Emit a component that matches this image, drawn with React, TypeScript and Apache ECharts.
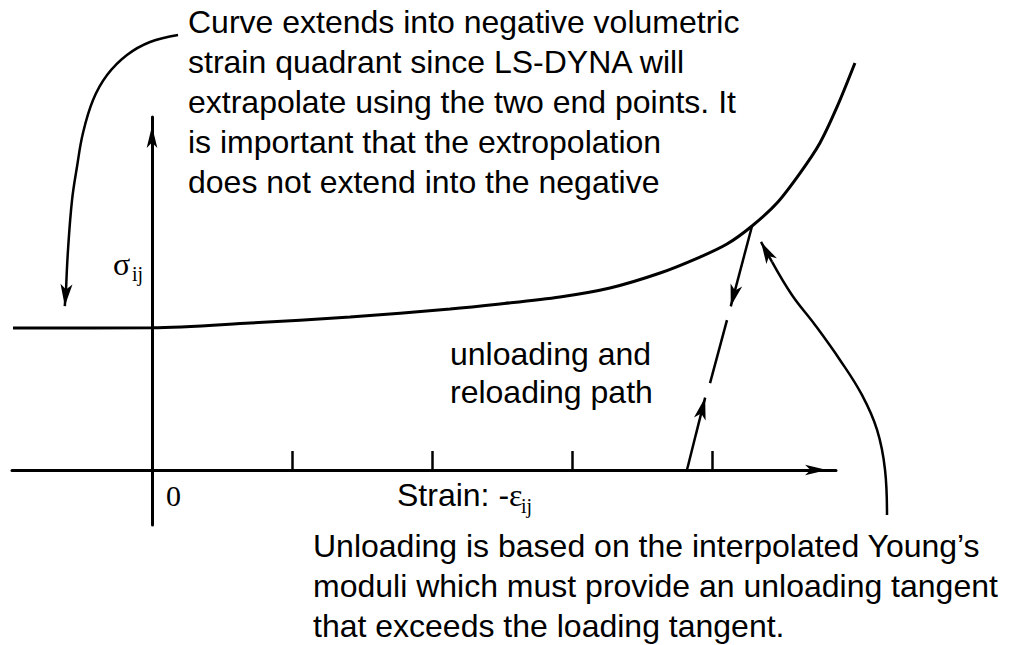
import React, { useEffect, useRef } from "react";
import * as echarts from "echarts";

// Loading curve (x: strain -eps_ij, y: stress sigma_ij; one unit = one tick step)
const curveX = [-0.993, 0, 0.7, 1.414, 2.129, 2.486, 2.914, 3.271, 3.629, 3.914, 4.107, 4.286, 4.464, 4.629, 4.771, 4.893, 5.021];
const curveY = [1.014, 1.016, 1.05, 1.093, 1.15, 1.186, 1.236, 1.3, 1.407, 1.521, 1.614, 1.743, 1.907, 2.121, 2.336, 2.593, 2.907];

// Strain tick values
const strainTicks = [1, 2, 3, 4];

// Unloading / reloading path pieces
const unloadDown = [[4.286, 1.743], [4.134, 1.169]];
const unloadMid = [[4.107, 1.071], [3.986, 0.621]];
const reloadUp = [[3.821, 0], [3.951, 0.517]];

// Left annotation arrow (curved) and its head segment
const leftArrowX = [0.186, -0.014, -0.179, -0.321, -0.421, -0.493, -0.536, -0.571, -0.6, -0.614];
const leftArrowY = [3.107, 3.057, 2.964, 2.821, 2.643, 2.407, 2.164, 1.929, 1.571, 1.286];
const leftHead = [[-0.614, 1.286], [-0.623, 1.171]];

// Right annotation arrow (curved) and its head segment
const rightArrowX = [5.25, 5.236, 5.179, 5.071, 4.914, 4.736, 4.571, 4.429];
const rightArrowY = [-0.321, 0, 0.286, 0.536, 0.786, 1.036, 1.25, 1.486];
const rightHead = [[4.429, 1.486], [4.35, 1.629]];

// Texts
const topNote =
  "Curve extends into negative volumetric\nstrain quadrant since LS-DYNA will\nextrapolate using the two end points. It\nis important that the extropolation\ndoes not extend into the negative";
const pathNote = "unloading and\nreloading path";
const bottomNote =
  "Unloading is based on the interpolated Young\u2019s\nmoduli which must provide an unloading tangent\nthat exceeds the loading tangent.";

const SANS = '"Liberation Sans", Arial, Helvetica, sans-serif';
const SERIF = '"Liberation Serif", "Times New Roman", serif';

const zip = (xs: number[], ys: number[]) => xs.map((x, i) => [x, ys[i]]);

export default function App() {
  const ref = useRef<HTMLDivElement>(null);
  useEffect(() => {
    document.body.style.margin = "0";
    if (!ref.current) return;
    const chart = echarts.init(ref.current, null, { renderer: "svg" });
    const black = "#000";
    const hiddenAxis = { show: false, splitLine: { show: false } };
    const lineBase = { xAxisIndex: 1, yAxisIndex: 1, symbol: "none", clip: false, silent: true };
    chart.setOption({
      animation: false,
      backgroundColor: "#fff",
      grid: [
        { left: 12, right: 180, top: 117, bottom: 120, containLabel: false },
        { left: 0, right: 0, top: 0, bottom: 0, containLabel: false },
      ],
      xAxis: [
        {
          type: "value",
          gridIndex: 0,
          min: -1,
          max: 4.8857,
          interval: 1,
          splitLine: { show: false },
          axisLabel: { show: false },
          axisLine: {
            show: true,
            onZero: true,
            symbol: ["none", "arrow"],
            symbolSize: [8, 22],
            symbolOffset: [0, -9],
            lineStyle: { color: black, width: 3 },
          },
          axisTick: {
            show: true,
            inside: true,
            length: 19,
            customValues: strainTicks,
            lineStyle: { color: black, width: 2.5 },
          },
        },
        { type: "value", gridIndex: 1, min: -1.0857, max: 6.1714, ...hiddenAxis },
      ],
      yAxis: [
        {
          type: "value",
          gridIndex: 0,
          min: -0.3929,
          max: 2.5214,
          splitLine: { show: false },
          axisLabel: { show: false },
          axisTick: { show: false },
          axisLine: {
            show: true,
            onZero: true,
            symbol: ["none", "arrow"],
            symbolSize: [8, 22],
            symbolOffset: [0, -9],
            lineStyle: { color: black, width: 3 },
          },
        },
        { type: "value", gridIndex: 1, min: -1.25, max: 3.3571, ...hiddenAxis },
      ],
      series: [
        {
          type: "line",
          ...lineBase,
          data: zip(curveX, curveY),
          smooth: 0.3,
          lineStyle: { color: black, width: 3 },
        },
        {
          type: "line",
          ...lineBase,
          data: unloadMid,
          lineStyle: { color: black, width: 2.5 },
        },
        {
          type: "line",
          ...lineBase,
          data: zip(leftArrowX, leftArrowY),
          smooth: 0.4,
          lineStyle: { color: black, width: 2.5 },
        },
        {
          type: "line",
          ...lineBase,
          data: zip(rightArrowX, rightArrowY),
          smooth: 0.4,
          lineStyle: { color: black, width: 2.5 },
        },
        {
          type: "lines",
          coordinateSystem: "cartesian2d",
          xAxisIndex: 1,
          yAxisIndex: 1,
          clip: false,
          silent: true,
          symbol: ["none", "arrow"],
          symbolSize: [0, [9, 22]],
          lineStyle: { color: black, width: 2.5, opacity: 1 },
          data: [
            { coords: unloadDown },
            { coords: reloadUp },
            { coords: leftHead },
            { coords: rightHead },
          ],
        },
      ],
      graphic: [
        {
          type: "text",
          x: 188,
          y: 2,
          style: { text: topNote, fill: black, fontSize: 32, fontFamily: SANS, lineHeight: 40, align: "left", verticalAlign: "top" },
        },
        {
          type: "text",
          x: 450,
          y: 335,
          style: { text: pathNote, fill: black, fontSize: 32, fontFamily: SANS, lineHeight: 38, align: "left", verticalAlign: "top" },
        },
        {
          type: "text",
          x: 313,
          y: 526,
          style: { text: bottomNote, fill: black, fontSize: 32, fontFamily: SANS, lineHeight: 40, align: "left", verticalAlign: "top" },
        },
        {
          type: "text",
          x: 113,
          y: 264,
          style: { text: "\u03c3", fill: black, fontSize: 32, fontFamily: SERIF, align: "left", verticalAlign: "middle" },
        },
        {
          type: "text",
          x: 132,
          y: 274,
          style: { text: "ij", fill: black, fontSize: 20, fontFamily: SERIF, align: "left", verticalAlign: "middle" },
        },
        {
          type: "text",
          x: 166,
          y: 495,
          style: { text: "0", fill: black, fontSize: 30, fontFamily: SERIF, align: "left", verticalAlign: "middle" },
        },
        {
          type: "text",
          x: 397,
          y: 495,
          style: { text: "Strain: -", fill: black, fontSize: 32, fontFamily: SANS, align: "left", verticalAlign: "middle" },
        },
        {
          type: "text",
          x: 509,
          y: 495,
          style: { text: "\u03b5", fill: black, fontSize: 32, fontFamily: SERIF, align: "left", verticalAlign: "middle" },
        },
        {
          type: "text",
          x: 521,
          y: 506,
          style: { text: "ij", fill: black, fontSize: 20, fontFamily: SERIF, align: "left", verticalAlign: "middle" },
        },
      ],
    });
    return () => chart.dispose();
  }, []);
  return <div ref={ref} style={{ width: 1016, height: 645 }} />;
}
